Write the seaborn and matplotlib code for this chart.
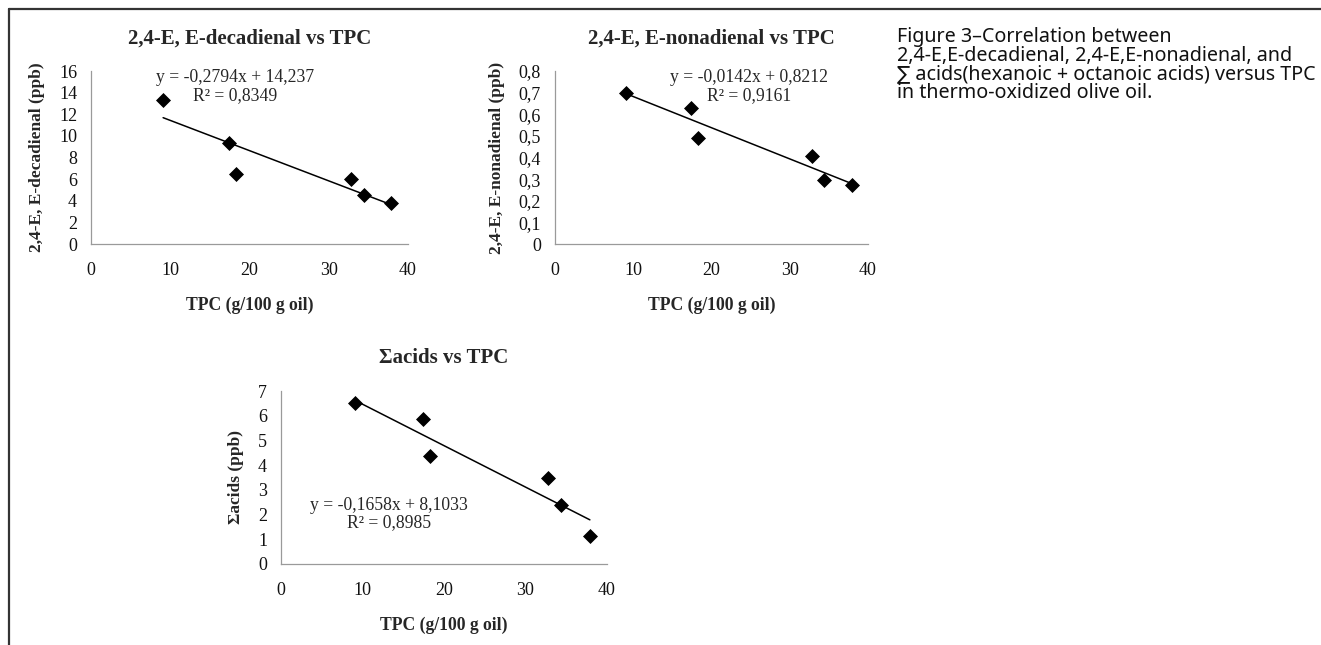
import numpy as np
import pandas as pd
import matplotlib
matplotlib.use("Agg")
import matplotlib.pyplot as plt
from matplotlib.lines import Line2D
import seaborn as sns

# data
tpc = [9.1, 17.4, 18.3, 32.8, 34.4, 37.9]
decadienal = [13.35, 9.3, 6.5, 6.0, 4.5, 3.8]
nonadienal = [0.70, 0.63, 0.49, 0.405, 0.295, 0.275]
acids = [6.5, 5.85, 4.37, 3.48, 2.4, 1.12]

titles = ["2,4-E, E-decadienal vs TPC", "2,4-E, E-nonadienal vs TPC", "\u03a3acids vs TPC"]
ylabels = ["2,4-E, E-decadienal (ppb)", "2,4-E, E-nonadienal (ppb)", "\u03a3acids (ppb)"]
xlabel = "TPC (g/100 g oil)"
equations = ["y = -0,2794x + 14,237\nR\u00b2 = 0,8349",
             "y = -0,0142x + 0,8212\nR\u00b2 = 0,9161",
             "y = -0,1658x + 8,1033\nR\u00b2 = 0,8985"]
x_ticks = [0, 10, 20, 30, 40]
y_ticks = [[0, 2, 4, 6, 8, 10, 12, 14, 16],
           [0, 0.1, 0.2, 0.3, 0.4, 0.5, 0.6, 0.7, 0.8],
           [0, 1, 2, 3, 4, 5, 6, 7]]
y_ticklabels = [["0", "2", "4", "6", "8", "10", "12", "14", "16"],
                ["0", "0,1", "0,2", "0,3", "0,4", "0,5", "0,6", "0,7", "0,8"],
                ["0", "1", "2", "3", "4", "5", "6", "7"]]
caption = ("Figure 3\u2013Correlation between\n"
           "2,4-E,E-decadienal, 2,4-E,E-nonadienal, and\n"
           "\u2211 acids(hexanoic + octanoic acids) versus TPC\n"
           "in thermo-oxidized olive oil.")

sns.set_style("white")
plt.rcParams['font.family'] = ['Liberation Serif', 'DejaVu Serif']

W, H = 1321, 645
fig = plt.figure(figsize=(W / 100, H / 100), dpi=100)


def px_axes(left, top, right, bottom):
    return fig.add_axes([left / W, 1 - bottom / H, (right - left) / W, (bottom - top) / H])


boxes = [(91, 71, 408, 244), (555, 71, 868, 244), (281, 391, 607, 564)]
eq_pos = [(0.455, 0.91), (0.62, 0.91), (0.33, 0.29)]
series = [decadienal, nonadienal, acids]

for i, (box, yvals) in enumerate(zip(boxes, series)):
    ax = px_axes(*box)
    df = pd.DataFrame({"tpc": tpc, "val": yvals})
    sns.regplot(data=df, x="tpc", y="val", ax=ax, scatter=False, ci=None,
                color="black", line_kws={"lw": 1.1})
    sns.scatterplot(data=df, x="tpc", y="val", ax=ax, marker="D", s=50,
                    color="black", edgecolor="black", zorder=3)
    ax.set_xlim(0, 40)
    ax.set_ylim(0, y_ticks[i][-1])
    ax.set_xticks(x_ticks)
    ax.set_xticklabels([str(t) for t in x_ticks])
    ax.set_yticks(y_ticks[i])
    ax.set_yticklabels(y_ticklabels[i])
    ax.tick_params(axis="both", length=0, labelsize=13, colors="#111111")
    ax.tick_params(axis="x", pad=13)
    ax.tick_params(axis="y", pad=10)
    for s in ["top", "right"]:
        ax.spines[s].set_visible(False)
    for s in ["left", "bottom"]:
        ax.spines[s].set_color("#9a9a9a")
        ax.spines[s].set_linewidth(0.9)
    ax.set_title(titles[i], fontsize=15, fontweight="bold", pad=20)
    ax.set_xlabel(xlabel, fontsize=12.7, fontweight="bold", labelpad=13)
    ax.set_ylabel(ylabels[i], fontsize=12.5, fontweight="bold", labelpad=10)
    ax.text(eq_pos[i][0], eq_pos[i][1], equations[i], transform=ax.transAxes,
            ha="center", va="center", fontsize=12.7, linespacing=1.05)

fig.text(897 / W, 1 - 27 / H, caption, ha="left", va="top", fontsize=14.2,
         family=["Noto Sans", "DejaVu Sans"], linespacing=0.9, color="#111111")

# frame lines on the left and top
fig.add_artist(Line2D([8.5 / W, 8.5 / W], [0, 1 - 8.5 / H], color="#333333", lw=1.6))
fig.add_artist(Line2D([8.5 / W, 1], [1 - 8.5 / H, 1 - 8.5 / H], color="#333333", lw=1.6))

fig.savefig("out.png", dpi=100)
